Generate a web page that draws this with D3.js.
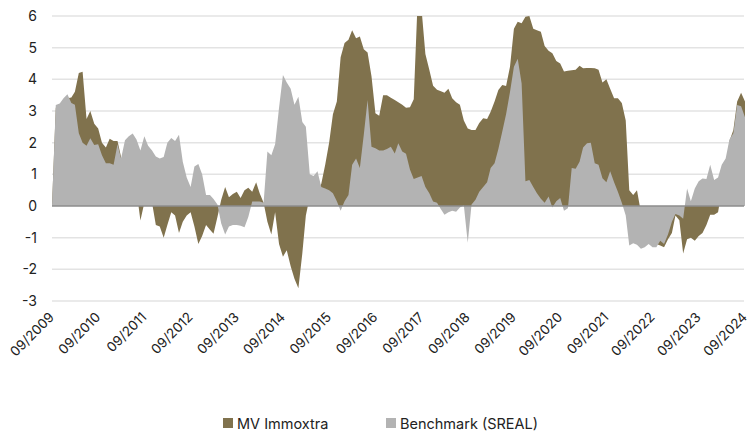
<html>
<head>
<script src="https://d3js.org/d3.v7.min.js"></script>
<style>
  body { margin: 0; background: #fff; }
  text { font-family: Inter, "Noto Sans", sans-serif; fill: #222; }
  .grid line { stroke: #e3e3e3; stroke-width: 1.5px; }
  .zero { stroke: #8c8c8c; stroke-width: 1.5px; }
</style>
</head>
<body>
<svg id="chart" width="753" height="432"></svg>
<script>
// monthly values, 09/2009 .. 09/2024
const mvImmoxtra = [
  0, 3.1, 3.2, 3.3, 3.4, 3.43, 3.61, 4.2, 4.24, 2.75,
  3.0, 2.6, 2.45, 2.0, 1.85, 2.12, 2.05, 2.05, 1.55, 1.2,
  1.0, 0.8, 0.5, -0.46, 0.1, 0.3, 0.1, -0.6, -0.65, -1.0,
  -0.6, -0.2, -0.3, -0.85, -0.5, -0.3, -0.2, -0.65, -1.2, -0.95,
  -0.6, -0.75, -0.88, -0.35, 0.2, 0.6, 0.28, 0.38, 0.45, 0.25,
  0.5, 0.58, 0.45, 0.75, 0.4, 0.1, -0.5, -0.9, -0.2, -1.2,
  -1.6, -1.4, -1.9, -2.3, -2.6, -1.5, -0.3, 0.3, 0.4, 0.5,
  0.7, 1.3, 2.0, 2.9, 3.3, 4.7, 5.15, 5.25, 5.55, 5.3,
  5.35, 4.95, 4.85, 4.1, 2.93, 2.85, 3.5, 3.5, 3.42, 3.35,
  3.28, 3.2, 3.1, 3.12, 3.37, 6.5, 6.2, 4.8, 4.3, 3.8,
  3.67, 3.62, 3.58, 3.7, 3.4, 3.28, 3.2, 2.7, 2.45, 2.4,
  2.4, 2.62, 2.77, 2.75, 2.98, 3.3, 3.66, 3.82, 3.79, 4.4,
  5.6, 5.82, 5.77, 5.98, 6.0, 5.6, 5.55, 5.5, 5.05, 4.9,
  4.82, 4.58, 4.5, 4.25, 4.27, 4.29, 4.3, 4.43, 4.35, 4.36,
  4.36, 4.35, 4.3, 3.9, 4.0, 3.7, 3.4, 3.4, 3.25, 2.7,
  0.5, 0.35, 0.5, -0.2, -0.8, -1.0, -1.1, -1.2, -1.25, -1.3,
  -1.05, -0.85, -0.3, -0.45, -1.5, -1.05, -1.0, -1.1, -0.95, -0.85,
  -0.6, -0.28, -0.28, -0.2, 0.5, 1.0, 2.05, 2.4, 3.3, 3.58,
  3.3
];

const benchmark = [
  0, 3.19, 3.24, 3.4, 3.53, 3.25, 3.2, 2.3, 2.0, 1.9,
  2.14, 1.93, 1.95, 1.6, 1.35, 1.35, 1.3, 1.95, 1.5, 2.08,
  2.2, 2.29, 2.1, 1.75, 2.2, 1.9, 1.75, 1.56, 1.5, 1.55,
  2.0, 2.15, 2.05, 2.25, 1.4, 0.9, 0.6, 1.25, 1.33, 1.0,
  0.35, 0.35, 0.22, 0.05, -0.55, -0.9, -0.65, -0.6, -0.6, -0.62,
  -0.67, -0.35, 0.14, 0.14, 0.14, 0.1, 1.72, 1.6, 1.95, 3.1,
  4.14, 3.9, 3.7, 3.2, 3.45, 2.65, 2.5, 1.0, 0.95, 1.1,
  0.6, 0.55, 0.5, 0.4, 0.15, -0.15, 0.15, 0.35, 1.3, 1.5,
  1.2, 2.25, 3.35, 1.87, 1.82, 1.75, 1.75, 1.8, 1.87, 1.66,
  1.98, 1.72, 1.65, 1.15, 0.85, 0.9, 0.95, 0.6, 0.4, 0.14,
  0.1, -0.1, -0.28, -0.2, -0.15, -0.18, -0.05, 0.02, -1.16, 0.05,
  0.2, 0.45, 0.6, 0.75, 1.2, 1.35, 1.8, 2.35, 2.9, 3.6,
  4.4, 4.65, 3.87, 0.78, 0.82, 0.6, 0.4, 0.23, 0.1, 0.3,
  -0.05, 0.15, 0.25, -0.15, -0.07, 1.2, 1.18, 1.4, 1.85, 1.98,
  2.0, 1.35, 1.3, 0.88, 0.75, 1.1, 0.75, 0.45, 0.1, -0.3,
  -1.25, -1.18, -1.22, -1.35, -1.3, -1.2, -1.3, -1.3, -1.1, -1.2,
  -0.9, -0.5, -0.25, -0.3, -0.4, 0.55, 0.15, 0.55, 0.78, 0.87,
  0.85, 1.3, 0.82, 0.9, 1.3, 1.5, 2.1, 2.3, 3.19, 3.15,
  2.8
];

const tickLabels = ["09/2009", "09/2010", "09/2011", "09/2012", "09/2013", "09/2014",
  "09/2015", "09/2016", "09/2017", "09/2018", "09/2019", "09/2020", "09/2021",
  "09/2022", "09/2023", "09/2024"];
const yTicks = [-3, -2, -1, 0, 1, 2, 3, 4, 5, 6];
const seriesNames = ["MV Immoxtra", "Benchmark (SREAL)"];
const seriesColors = ["#80724d", "#b3b3b3"];

const svg = d3.select("#chart");
const margin = {top: 16, right: 8, bottom: 131, left: 52};
const width = 753 - margin.left - margin.right;
const height = 432 - margin.top - margin.bottom;

const months = d3.timeMonth.range(new Date(2009, 8, 1), new Date(2024, 9, 1));
const tickDates = tickLabels.map(s => new Date(+s.slice(3), +s.slice(0, 2) - 1, 1));

const x = d3.scaleTime().domain([months[0], months[months.length - 1]]).range([0, width]);
const y = d3.scaleLinear().domain([-3, 6]).range([height, 0]);

const g = svg.append("g").attr("transform", "translate(" + margin.left + "," + margin.top + ")");

// grid
g.append("g").attr("class", "grid")
  .selectAll("line").data(yTicks.filter(d => d !== 0)).enter()
  .append("line")
  .attr("x1", 0).attr("x2", width - 1)
  .attr("y1", d => y(d)).attr("y2", d => y(d));

g.append("g").selectAll("text").data(yTicks).enter()
  .append("text")
  .attr("x", -15)
  .attr("y", d => y(d))
  .attr("dy", "0.36em")
  .attr("text-anchor", "end")
  .style("font-size", "14px")
  .text(d => d);

svg.append("clipPath").attr("id", "clip")
  .append("rect").attr("x", 0).attr("y", 0).attr("width", width).attr("height", height);

const plot = g.append("g").attr("clip-path", "url(#clip)");

const area = vals => d3.area()
  .x((d, i) => x(months[i]))
  .y0(y(0))
  .y1(d => y(d))(vals);

plot.append("path").attr("d", area(mvImmoxtra)).attr("fill", seriesColors[0]);
plot.append("path").attr("d", area(benchmark)).attr("fill", seriesColors[1]);

g.append("line").attr("class", "zero")
  .attr("x1", 0).attr("x2", width - 1)
  .attr("y1", y(0)).attr("y2", y(0));

// x labels
g.append("g").selectAll("text").data(tickDates).enter()
  .append("text")
  .attr("transform", d => "translate(" + (x(d) + 3) + "," + (height + 17) + ") rotate(-45)")
  .attr("text-anchor", "end")
  .style("font-size", "13.5px")
  .text((d, i) => tickLabels[i]);

// legend
const legend = svg.append("g").attr("transform", "translate(223,418)");
const legX = [0, 163];
seriesNames.forEach((name, i) => {
  legend.append("rect").attr("x", legX[i]).attr("y", 0).attr("width", 10).attr("height", 10)
    .attr("fill", seriesColors[i]);
  legend.append("text").attr("x", legX[i] + 14).attr("y", 10.5)
    .style("font-size", "14.5px").text(name);
});
</script>
</body>
</html>
